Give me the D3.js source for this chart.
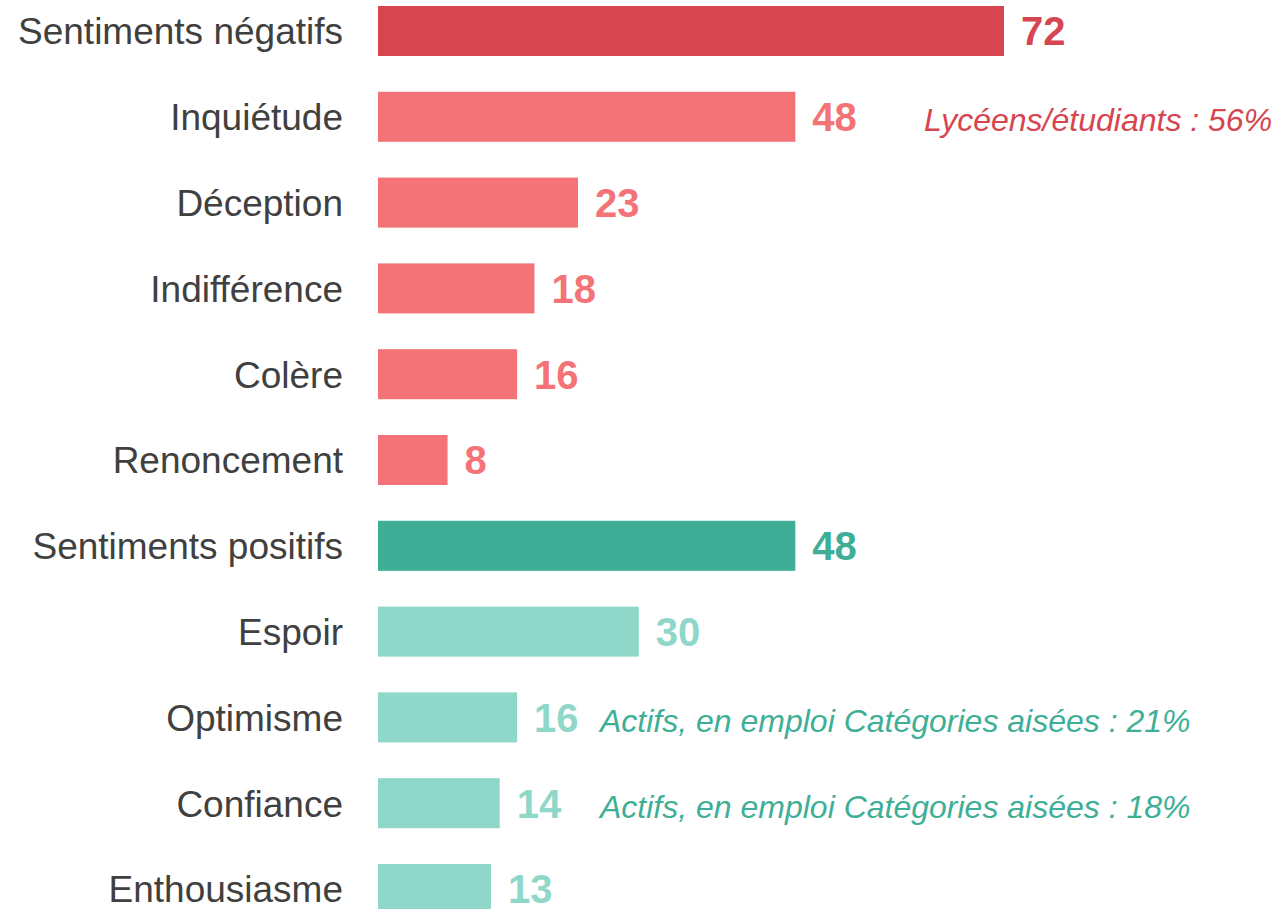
<!DOCTYPE html>
<html>
<head>
<meta charset="utf-8">
<script src="https://cdn.jsdelivr.net/npm/d3@7"></script>
<style>
  body { margin: 0; background: #fff; }
  svg { display: block; font-family: Arial, "Liberation Sans", Helvetica, sans-serif; }
</style>
</head>
<body>
<div id="chart"></div>
<script>
// data
var categories = ["Sentiments négatifs", "Inquiétude", "Déception", "Indifférence", "Colère", "Renoncement",
  "Sentiments positifs", "Espoir", "Optimisme", "Confiance", "Enthousiasme"];
var values = [72, 48, 23, 18, 16, 8, 48, 30, 16, 14, 13];
var groups = ["negTotal", "neg", "neg", "neg", "neg", "neg", "posTotal", "pos", "pos", "pos", "pos"];
var noteCategories = ["Inquiétude", "Optimisme", "Confiance"];
var noteTexts = ["Lycéens/étudiants : 56%", "Actifs, en emploi Catégories aisées : 21%", "Actifs, en emploi Catégories aisées : 18%"];
var noteGroups = ["neg", "pos", "pos"];

// colours
var barColor = { negTotal: "#d64550", neg: "#f37377", posTotal: "#3eaf96", pos: "#8fd7c8" };
var noteColor = { neg: "#d64550", pos: "#3eaf96" };
var noteX = { neg: 924, pos: 600 };

var width = 1276, height = 909;

var svg = d3.select("#chart").append("svg")
  .attr("width", width)
  .attr("height", height);

var xScale = d3.scaleLinear().domain([0, 72]).range([378, 1004]);
var yScale = d3.scaleBand()
  .domain(categories)
  .range([-11.9, 931.9])
  .paddingInner(0.417)
  .paddingOuter(0.2085);

var rows = categories.map(function(c, i){
  return { cat: c, value: values[i], group: groups[i] };
});

// bars
svg.selectAll(".bar")
  .data(rows)
  .enter()
  .append("rect")
  .attr("class", "bar")
  .attr("x", xScale(0))
  .attr("y", function(d){ return yScale(d.cat); })
  .attr("width", function(d){ return xScale(d.value) - xScale(0); })
  .attr("height", yScale.bandwidth())
  .attr("fill", function(d){ return barColor[d.group]; });

// category labels
svg.selectAll(".label")
  .data(rows)
  .enter()
  .append("text")
  .attr("class", "label")
  .attr("x", xScale(0) - 35)
  .attr("y", function(d){ return yScale(d.cat) + yScale.bandwidth() / 2; })
  .attr("dy", "0.36em")
  .attr("text-anchor", "end")
  .attr("font-size", 37)
  .attr("fill", "#404040")
  .text(function(d){ return d.cat; });

// value labels
svg.selectAll(".value")
  .data(rows)
  .enter()
  .append("text")
  .attr("class", "value")
  .attr("x", function(d){ return xScale(d.value) + 17; })
  .attr("y", function(d){ return yScale(d.cat) + yScale.bandwidth() / 2; })
  .attr("dy", "0.36em")
  .attr("font-size", 40)
  .attr("font-weight", "bold")
  .attr("fill", function(d){ return barColor[d.group]; })
  .text(function(d){ return d.value; });

// notes
svg.selectAll(".note")
  .data(noteCategories)
  .enter()
  .append("text")
  .attr("class", "note")
  .attr("x", function(d, i){ return noteX[noteGroups[i]]; })
  .attr("y", function(d){ return yScale(d) + yScale.bandwidth() / 2 + 3; })
  .attr("dy", "0.36em")
  .attr("font-size", 32)
  .attr("font-style", "italic")
  .attr("fill", function(d, i){ return noteColor[noteGroups[i]]; })
  .text(function(d, i){ return noteTexts[i]; });
</script>
</body>
</html>
